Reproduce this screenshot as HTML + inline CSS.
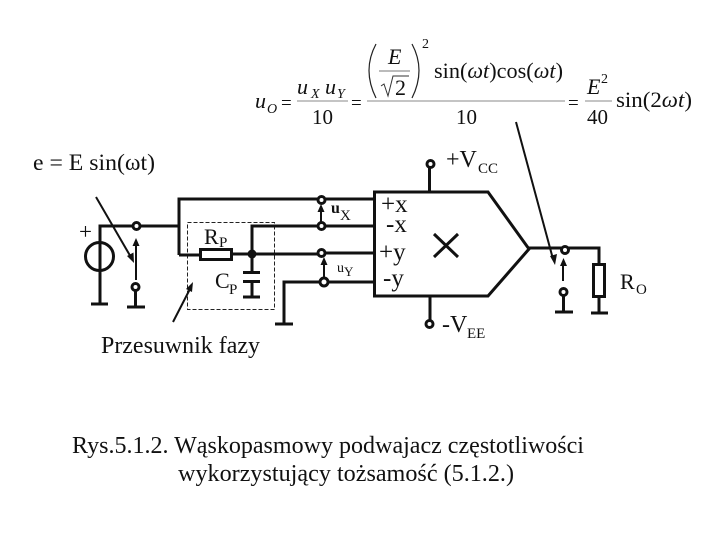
<!DOCTYPE html>
<html>
<head>
<meta charset="utf-8">
<style>
html,body{margin:0;padding:0;background:#fff;width:720px;height:540px;overflow:hidden}
svg{display:block}
text{font-family:"Liberation Serif",serif;fill:#111}
.i{font-style:italic}
.w{fill:none;stroke:#111;stroke-width:3}
.t{fill:none;stroke:#111;stroke-width:2}
.n{fill:#fff;stroke:#111;stroke-width:3}
</style>
</head>
<body>
<svg width="720" height="540" viewBox="0 0 720 540">
<!-- source -->
<circle cx="99.5" cy="256.5" r="14" class="w"/>
<path d="M91 304 H108 M100 303 V226 H179 M179 255 V199 H374" class="w"/>
<circle cx="136.5" cy="226" r="3.5" class="n"/>
<path d="M136 280 V243" class="t"/>
<path d="M136 238 L132.5 246 H139.5 Z" fill="#111"/>
<circle cx="135.5" cy="287" r="3.5" class="n"/>
<path d="M135.5 291 V307 M127 307 H145" class="w"/>
<line x1="96" y1="197" x2="132" y2="259" stroke="#111" stroke-width="2"/>
<path d="M134 263 L127 256 L133.5 252.5 Z" fill="#111"/>

<!-- phase shifter -->
<rect x="187.5" y="222.5" width="87" height="87" fill="none" stroke="#222" stroke-width="1" stroke-dasharray="4 2"/>
<path d="M179 255 H200 M232 254 H322" class="w"/>
<rect x="200.5" y="249.5" width="31" height="10" class="n"/>
<circle cx="252" cy="254" r="4.5" fill="#111"/>
<path d="M252 254 V226 H374 M252 254 V272 M243 272.5 H260 M243 281.5 H260 M252 281 V297 M243 297 H260" class="w"/>
<path d="M322 253 H374" class="w"/>
<line x1="173" y1="322" x2="191" y2="287" stroke="#111" stroke-width="2"/>
<path d="M193 282 L192 292 L186 289 Z" fill="#111"/>

<!-- multiplier -->
<path d="M374.5 192 H488 L529 249 L488 296 H374.5 Z" fill="#fff" stroke="#111" stroke-width="3"/>
<path d="M429.5 192 V168 M430 296 V328" class="w"/>
<circle cx="430.5" cy="164" r="3.5" class="n"/>
<circle cx="429.5" cy="324" r="3.5" class="n"/>
<path d="M434 234 L458 257 M458 234 L434 257" class="w"/>

<!-- inputs -->
<path d="M275 324 H293 M284 324 V282 H374" class="w"/>
<circle cx="321.5" cy="200" r="3.5" class="n"/>
<circle cx="321.5" cy="226" r="3.5" class="n"/>
<circle cx="321.5" cy="253" r="3.5" class="n"/>
<circle cx="324" cy="282" r="4" class="n"/>
<path d="M321 222 V208" class="t"/>
<path d="M321 204 L317.5 212 H324.5 Z" fill="#111"/>
<path d="M324 277 V262" class="t"/>
<path d="M324 257 L320.5 265 H327.5 Z" fill="#111"/>

<!-- output -->
<path d="M528 248 H599 V264 M599 297 V313 M591 313 H608" class="w"/>
<rect x="593.5" y="264.5" width="11" height="32" class="n"/>
<circle cx="565" cy="250" r="3.5" class="n"/>
<path d="M563 281 V263" class="t"/>
<path d="M563.5 258 L560 266 H567 Z" fill="#111"/>
<circle cx="563.5" cy="292" r="3.5" class="n"/>
<path d="M563.5 296 V312 M555 312 H573" class="w"/>
<line x1="516" y1="122" x2="553" y2="259" stroke="#111" stroke-width="2"/>
<path d="M555 265 L550 256 L557 254 Z" fill="#111"/>

<!-- equation -->
<g>
<text x="255" y="108" font-size="22" class="i">u</text>
<text x="267" y="113" font-size="14" class="i">O</text>
<text x="281" y="109" font-size="19">=</text>
<text x="297" y="94" font-size="22" class="i">u</text>
<text x="311" y="98" font-size="14" class="i">X</text>
<text x="325" y="94" font-size="22" class="i">u</text>
<text x="337" y="98" font-size="14" class="i">Y</text>
<line x1="297" y1="101" x2="348" y2="101" stroke="#888" stroke-width="1"/>
<text x="312" y="124" font-size="21">10</text>
<text x="351" y="109" font-size="19">=</text>
<line x1="367" y1="101" x2="565" y2="101" stroke="#888" stroke-width="1"/>
<path d="M376 44 Q362 70 376 98" fill="none" stroke="#222" stroke-width="1.2"/>
<path d="M412 44 Q426 70 412 98" fill="none" stroke="#222" stroke-width="1.2"/>
<text x="388" y="64" font-size="22" class="i">E</text>
<line x1="379" y1="71" x2="410" y2="71" stroke="#777" stroke-width="1"/>
<path d="M381 86 L384 84 L388 96 L393 76 L409 76" fill="none" stroke="#333" stroke-width="1"/>
<text x="395" y="95" font-size="22">2</text>
<text x="422" y="48" font-size="14">2</text>
<text x="434" y="78" font-size="22" textLength="129" lengthAdjust="spacingAndGlyphs">sin(<tspan class="i">ωt</tspan>)cos(<tspan class="i">ωt</tspan>)</text>
<text x="456" y="124" font-size="21">10</text>
<text x="568" y="109" font-size="19">=</text>
<text x="587" y="94" font-size="22" class="i">E</text>
<text x="601" y="83" font-size="14">2</text>
<line x1="585" y1="101" x2="612" y2="101" stroke="#888" stroke-width="1"/>
<text x="587" y="124" font-size="21">40</text>
<text x="616" y="107" font-size="22" textLength="76" lengthAdjust="spacingAndGlyphs">sin(2<tspan class="i">ωt</tspan>)</text>
</g>

<!-- labels -->
<text x="33" y="170" font-size="23" textLength="122" lengthAdjust="spacingAndGlyphs">e = E sin(ωt)</text>
<text x="79" y="239" font-size="23">+</text>
<text x="204" y="244" font-size="22">R</text><text x="219" y="247" font-size="15">P</text>
<text x="215" y="288" font-size="22">C</text><text x="229" y="294" font-size="15">P</text>
<text x="101" y="353" font-size="24" textLength="159" lengthAdjust="spacingAndGlyphs">Przesuwnik fazy</text>
<text x="331" y="213" font-size="16" font-weight="bold">u</text><text x="340" y="220" font-size="15">X</text>
<text x="337" y="272" font-size="14">u</text><text x="344" y="276" font-size="13">Y</text>
<text x="381" y="212" font-size="25">+x</text>
<text x="386" y="232" font-size="25">-x</text>
<text x="379" y="260" font-size="25">+y</text>
<text x="383" y="286" font-size="25">-y</text>
<text x="446" y="167" font-size="24">+V</text><text x="478" y="173" font-size="15">CC</text>
<text x="442" y="332" font-size="24">-V</text><text x="467" y="338" font-size="15">EE</text>
<text x="620" y="289" font-size="22">R</text><text x="636" y="294" font-size="15">O</text>
<text x="72" y="453" font-size="24" textLength="512" lengthAdjust="spacingAndGlyphs">Rys.5.1.2. Wąskopasmowy podwajacz częstotliwości</text>
<text x="178" y="481" font-size="24" textLength="336" lengthAdjust="spacingAndGlyphs">wykorzystujący tożsamość (5.1.2.)</text>
</svg>
</body>
</html>
